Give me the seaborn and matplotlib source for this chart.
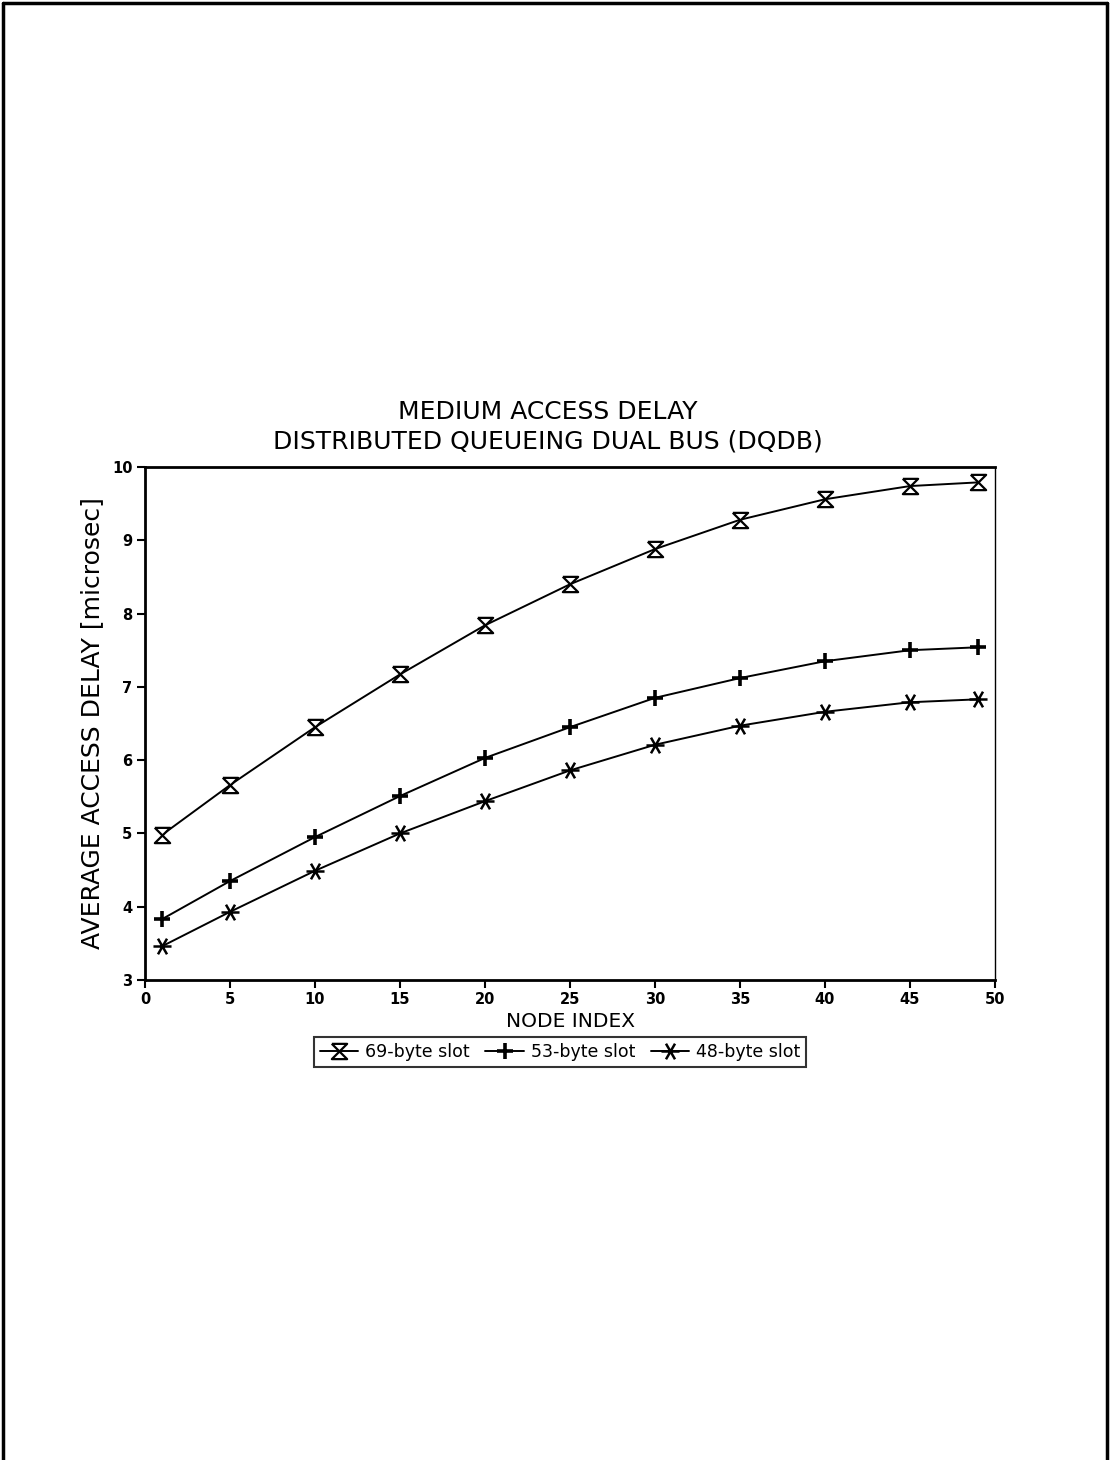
import numpy as np
import pandas as pd
import matplotlib
matplotlib.use("Agg")
import matplotlib.pyplot as plt
from matplotlib.lines import Line2D
from matplotlib.path import Path
import seaborn as sns

# ---- data ----
node_index = [1, 5, 10, 15, 20, 25, 30, 35, 40, 45, 49]
delay_69 = [4.98, 5.66, 6.45, 7.17, 7.84, 8.40, 8.88, 9.28, 9.56, 9.74, 9.79]
delay_53 = [3.83, 4.35, 4.95, 5.51, 6.03, 6.45, 6.85, 7.12, 7.35, 7.50, 7.54]
delay_48 = [3.46, 3.93, 4.49, 5.00, 5.44, 5.86, 6.21, 6.47, 6.66, 6.79, 6.83]
series_labels = ["69-byte slot", "53-byte slot", "48-byte slot"]
x_ticks = [0, 5, 10, 15, 20, 25, 30, 35, 40, 45, 50]
y_ticks = [3, 4, 5, 6, 7, 8, 9, 10]

sns.set_style("white")
plt.rcParams['font.family'] = ['DejaVu Sans']
plt.rcParams['text.color'] = 'black'
plt.rcParams['axes.labelcolor'] = 'black'
plt.rcParams['xtick.color'] = 'black'
plt.rcParams['ytick.color'] = 'black'

W, H = 1110, 1460
fig = plt.figure(figsize=(W / 100, H / 100), dpi=100)
ax = fig.add_axes([145 / W, 1 - 980 / H, (995 - 145) / W, (980 - 467) / H])

hourglass = [(-1, 1), (1, 1), (-1, -1), (1, -1), (-1, 1)]
# asterisk with a horizontal arm and two diagonals (+-60 deg)
c, s = 0.5, np.sqrt(3) / 2
asterisk = Path([(-1, 0), (1, 0), (-c, -s), (c, s), (-c, s), (c, -s)],
                [Path.MOVETO, Path.LINETO, Path.MOVETO, Path.LINETO, Path.MOVETO, Path.LINETO])
styles = [
    dict(marker=hourglass, markersize=11, markerfacecolor="white", markeredgewidth=1.6),
    dict(marker="+", markersize=12, markeredgewidth=2.6),
    dict(marker=asterisk, markersize=13, markeredgewidth=1.8, fillstyle="none"),
]
for vals, lab, st in zip([delay_69, delay_53, delay_48], series_labels, styles):
    df = pd.DataFrame({"node": node_index, "delay": vals})
    sns.lineplot(data=df, x="node", y="delay", ax=ax, color="black", linewidth=1.4,
                 markeredgecolor="black", label=lab, **st)

ax.set_xlim(0, 50)
ax.set_ylim(3, 10)
ax.set_xticks(x_ticks)
ax.set_yticks(y_ticks)
ax.tick_params(axis="both", direction="out", length=6, width=1.5, color="black",
               labelcolor="black", labelsize=10.5, pad=3, left=True, bottom=True)
for lbl in ax.get_xticklabels() + ax.get_yticklabels():
    lbl.set_fontweight("bold")
for side in ["left", "bottom", "top"]:
    ax.spines[side].set_linewidth(2.0)
    ax.spines[side].set_color("black")
ax.spines["right"].set_linewidth(1.0)
ax.spines["right"].set_color("black")

ax.set_xlabel("NODE INDEX", fontsize=14.5, labelpad=3, color="black")
ax.set_ylabel("AVERAGE ACCESS DELAY [microsec]", fontsize=18, labelpad=6, color="black")
fig.text(548 / W, 1 - 412 / H, "MEDIUM ACCESS DELAY", ha="center", va="center",
         fontsize=18, color="black")
fig.text(548 / W, 1 - 441 / H, "DISTRIBUTED QUEUEING DUAL BUS (DQDB)", ha="center",
         va="center", fontsize=18, color="black")

leg = ax.legend(loc="upper center", bbox_to_anchor=(560 / W, 1 - 1037 / H),
                bbox_transform=fig.transFigure, ncol=3, frameon=True, fancybox=False,
                edgecolor="black", fontsize=12.5, handlelength=2.2, handletextpad=0.4,
                columnspacing=0.9, borderpad=0.35, borderaxespad=0)
leg.get_frame().set_linewidth(1.5)
for t in leg.get_texts():
    t.set_color("black")

# page border
for xs, ys in [([3 / W, 3 / W], [0, 1 - 3 / H]), ([3 / W, 1 - 3 / W], [1 - 3 / H, 1 - 3 / H]),
               ([1 - 3 / W, 1 - 3 / W], [0, 1 - 3 / H])]:
    fig.add_artist(Line2D(xs, ys, transform=fig.transFigure, color="black", linewidth=2.5))

fig.savefig("out.png", dpi=100, facecolor="white")
